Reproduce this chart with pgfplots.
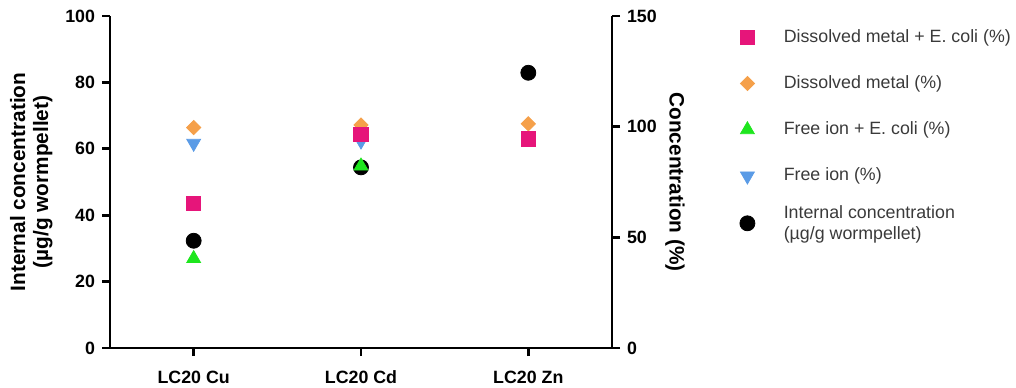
\documentclass[border=0pt]{standalone}
\usepackage{fontspec}
\setmainfont{Liberation Sans}
\usepackage{pgfplots}
\pgfplotsset{compat=1.18}
\definecolor{cpink}{HTML}{E6157A}
\definecolor{corange}{HTML}{F5A04A}
\definecolor{cgreen}{HTML}{1EE61E}
\definecolor{cblue}{HTML}{5A9BE6}
\definecolor{ctext}{HTML}{3A3A3A}
\begin{document}
\begin{tikzpicture}
\useasboundingbox (-55bp,-20bp) rectangle (453bp,174bp);
\pgfplotsset{
  common/.style={
    at={(0,0)}, anchor=south west, scale only axis,
    width=251bp, height=166bp,
    xmin=-0.5, xmax=2.5, ymin=0,
    /pgf/number format/assume math mode=true,
    tick label style={font=\bfseries\fontsize{8.9bp}{10bp}\selectfont},
    axis line style={line width=1.4bp, black},
    tick style={line width=1.4bp, black},
    major tick length=4bp,
    clip=false,
  }
}
\begin{axis}[common,
  ymax=100,
  axis x line*=bottom, axis y line*=left,
  tick align=outside,
  xtick={0,1,2}, xticklabels={LC20 Cu,LC20 Cd,LC20 Zn},
  xticklabel style={yshift=-4bp},
  ytick={0,20,40,60,80,100},
  every axis y label/.style={at={(axis description cs:-0.157,0.5)}, rotate=90, anchor=center, align=center,
    font=\bfseries\fontsize{10.4bp}{11.5bp}\selectfont},
  ylabel={Internal concentration\\(µg/g wormpellet)},
]
\addplot[only marks, mark=*, mark size=3.75bp, black] coordinates {(0,32.3) (1,54.4) (2,82.9)};
\end{axis}
\begin{axis}[common,
  ymax=150,
  axis x line=none, axis y line*=right,
  tick align=outside,
  xtick=\empty,
  ytick={0,50,100,150},
  every axis y label/.style={at={(axis description cs:1.1255,0.5)}, rotate=-90, anchor=center,
    font=\bfseries\fontsize{10.4bp}{11.5bp}\selectfont},
  ylabel={Concentration (\%)},
  legend image code/.code={\path (-4bp,0bp) (4bp,0bp); \draw[#1] plot coordinates {(0bp,0bp)};},
  legend style={at={(axis description cs:1.253,0.972)}, anchor=north west, draw=none, fill=none,
    inner sep=0pt, outer sep=0pt, column sep=12bp, row sep=11.2bp,
    font=\fontsize{8.9bp}{10.5bp}\selectfont, text=ctext,
    cells={anchor=west, align=left}},
]
\addplot[forget plot, only marks, mark=square*, mark size=2.5bp, mark options={rotate=45}, corange, draw=corange] coordinates {(0,99.6) (1,100.8) (2,101.3)};
\addplot[forget plot, only marks, mark=triangle*, mark size=4bp, mark options={rotate=180}, cblue] coordinates {(0,92.5) (1,93.5)};
\addplot[forget plot, only marks, mark=square*, mark size=3.6bp, cpink] coordinates {(0,65.4) (1,96.5) (2,94.4)};
\addplot[forget plot, only marks, mark=triangle*, mark size=4bp, cgreen] coordinates {(0,40.4) (1,82.2)};
\addlegendimage{only marks, mark=square*, mark size=3.6bp, cpink}
\addlegendentry{Dissolved metal + E. coli (\%)}
\addlegendimage{only marks, mark=square*, mark size=2.5bp, mark options={rotate=45}, corange}
\addlegendentry{Dissolved metal (\%)}
\addlegendimage{only marks, mark=triangle*, mark size=4bp, cgreen}
\addlegendentry{Free ion + E. coli (\%)}
\addlegendimage{only marks, mark=triangle*, mark size=4bp, mark options={rotate=180}, cblue}
\addlegendentry{Free ion (\%)}
\addlegendimage{only marks, mark=*, mark size=3.75bp, black}
\addlegendentry{\rule[-3.5bp]{0pt}{11bp}\smash{\begin{tabular}{@{}l@{}}Internal concentration\\(µg/g wormpellet)\end{tabular}}}
\end{axis}
\end{tikzpicture}
\end{document}
